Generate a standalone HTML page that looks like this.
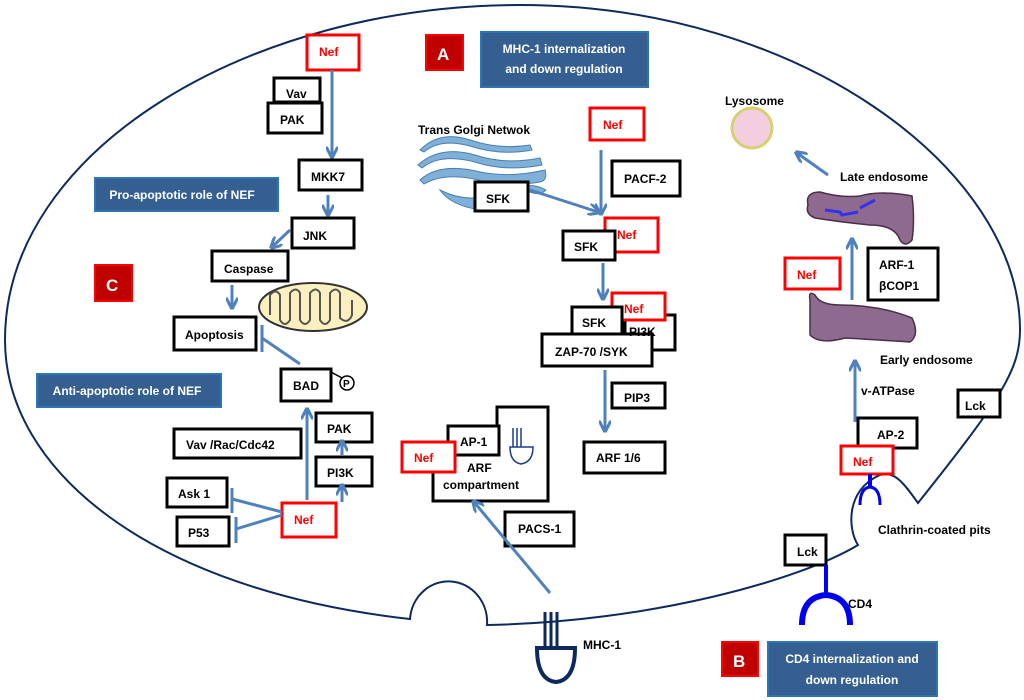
<!DOCTYPE html>
<html><head><meta charset="utf-8"><style>
html,body{margin:0;padding:0;background:#fff;}
svg{display:block;}
text{font-family:"Liberation Sans",sans-serif;font-weight:bold;font-size:12px;}
</style></head><body>
<svg width="1024" height="700" viewBox="0 0 1024 700" xmlns="http://www.w3.org/2000/svg">
<defs>
<marker id="ah" viewBox="0 0 10 10" refX="8" refY="5" markerWidth="4" markerHeight="4" orient="auto"><path d="M0,0 L10,5 L0,10" fill="none" stroke="#4f81bd" stroke-width="2.5"/></marker>
</defs>
<path d="M410,619 C150,590 5,470 5,340 C5,150 250,5 520,5 C800,5 1020,170 1020,330 C1020,370 1000,400 918,503 C905,485 895,470 880,475 C845,490 848,530 858,545 C800,580 650,622 487,625 A38,40 0 1 0 410,619 Z" fill="none" stroke="#0d2a5e" stroke-width="2"/>

<g fill="#fff" stroke="#000" stroke-width="3">
<rect x="274" y="78" width="46" height="24"/>
<rect x="268" y="103" width="54" height="30"/>
<rect x="299" y="160" width="63" height="30"/>
<rect x="292" y="218" width="62" height="30"/>
<rect x="212" y="251" width="76" height="30"/>
<rect x="174" y="317" width="82" height="33"/>
<rect x="281" y="369" width="50" height="32"/>
<rect x="174" y="429" width="127" height="29"/>
<rect x="316" y="413" width="56" height="29"/>
<rect x="316" y="457" width="56" height="29"/>
<rect x="167" y="478" width="60" height="29"/>
<rect x="177" y="517" width="52" height="29"/>
<rect x="612" y="161" width="68" height="35"/>
<rect x="625" y="315" width="50" height="35"/>
<rect x="612" y="383" width="53" height="25"/>
<rect x="584" y="442" width="81" height="31"/>
<path d="M433,455 H497 V407 H548 V501 H433 Z"/>
<rect x="448" y="426" width="51" height="29"/>
<rect x="505" y="512" width="69" height="34"/>
<rect x="868" y="248" width="70" height="52"/>
<rect x="958" y="390" width="42" height="27"/>
<rect x="858" y="418" width="59" height="30"/>
<rect x="785" y="535" width="41" height="30"/>
</g>
<g fill="#fff" stroke="#ff0000" stroke-width="3">
<rect x="307" y="35" width="52" height="35"/>
<rect x="282" y="503" width="54" height="34"/>
<rect x="590" y="108" width="54" height="32"/>
<rect x="605" y="218" width="53" height="34"/>
<rect x="612" y="293" width="53" height="27"/>
<rect x="402" y="442" width="53" height="30"/>
<rect x="785" y="258" width="55" height="31"/>
<rect x="841" y="446" width="52" height="28"/>
</g>
<g fill="#fff" stroke="#000" stroke-width="3">
<rect x="563" y="231" width="52" height="29"/>
<rect x="572" y="307" width="50" height="28"/>
<rect x="542" y="334" width="110" height="32"/>
</g>
<g fill="#c00000" stroke="#ff0000" stroke-width="2">
<rect x="426" y="35" width="37" height="35"/>
<rect x="95" y="265" width="37" height="36"/>
<rect x="722" y="642" width="36" height="34"/>
</g>
<g fill="#fff"><text x="437" y="60" style="font-size:17px">A</text><text x="106" y="291" style="font-size:17px">C</text><text x="733" y="667" style="font-size:17px">B</text></g>
<g fill="#355f91" stroke="#2e75b6" stroke-width="2">
<rect x="481" y="32" width="167" height="55"/>
<rect x="95" y="178" width="183" height="33"/>
<rect x="37" y="374" width="184" height="33"/>
<rect x="768" y="642" width="169" height="54"/>
</g>
<g fill="#fff" text-anchor="middle">
<text x="564" y="53">MHC-1 internalization</text>
<text x="564" y="73">and down regulation</text>
<text x="182" y="199">Pro-apoptotic role of NEF</text>
<text x="127" y="395">Anti-apoptotic role of NEF</text>
<text x="852" y="663">CD4  internalization and</text>
<text x="852" y="684">down regulation</text>
</g>
<!-- golgi -->
<g fill="#7fb0d8" stroke="#4a7fb0" stroke-width="1">
<path d="M420,150 Q440,130 470,140 Q500,150 530,145 L532,150 Q500,156 470,146 Q440,138 424,152 Z"/>
<path d="M418,165 Q440,145 475,155 Q505,165 540,158 L542,165 Q505,172 475,162 Q440,153 422,168 Z"/>
<path d="M420,180 Q440,162 480,172 Q510,178 545,170 Q548,180 540,182 Q505,188 478,180 Q445,172 424,184 Z"/>
<path d="M440,190 Q470,205 500,192 Q530,180 546,190 Q540,196 530,192 Q505,200 480,210 Q450,205 440,190 Z"/>
</g>
<rect x="475" y="182" width="53" height="29" fill="#fff" stroke="#000" stroke-width="3"/>
<g stroke="#4f81bd" stroke-width="3" fill="none" marker-end="url(#ah)">
<line x1="332" y1="70" x2="332" y2="156"/>
<line x1="328" y1="195" x2="328" y2="214"/>
<line x1="290" y1="230" x2="272" y2="247"/>
<line x1="232" y1="285" x2="232" y2="307"/>
<line x1="307" y1="500" x2="307" y2="410"/>
<line x1="342" y1="456" x2="342" y2="442"/>
<line x1="342" y1="502" x2="342" y2="486"/>
<line x1="530" y1="190" x2="598" y2="212"/>
<line x1="601" y1="150" x2="601" y2="213"/>
<line x1="603" y1="263" x2="603" y2="298"/>
<line x1="605" y1="370" x2="605" y2="430"/>
<line x1="550" y1="593" x2="474" y2="502"/>
<line x1="828" y1="175" x2="797" y2="153"/>
<line x1="852" y1="300" x2="852" y2="240"/>
<line x1="855" y1="422" x2="855" y2="362"/>
</g>
<g stroke="#4f81bd" stroke-width="3" fill="none">
<line x1="300" y1="364" x2="262" y2="338"/><line x1="262" y1="325" x2="262" y2="352"/>
<line x1="282" y1="512" x2="232" y2="499"/><line x1="232" y1="488" x2="232" y2="513"/>
<line x1="282" y1="515" x2="236" y2="529"/><line x1="236" y1="517" x2="236" y2="543"/>
</g>
<line x1="331" y1="372" x2="342" y2="378" stroke="#000" stroke-width="1.5"/>
<circle cx="347" cy="383" r="7" fill="#fff" stroke="#000" stroke-width="1.5"/>
<text x="343" y="387" style="font-size:10px">P</text>
<ellipse cx="313" cy="307" rx="54" ry="24" fill="#fdf0c0" stroke="#333" stroke-width="2"/>
<path d="M270,315 V295 Q276,288 280,295 V320 Q285,328 290,320 V293 Q296,286 300,293 V320 Q305,328 310,320 V293 Q316,286 320,293 V320 Q325,328 330,320 V293 Q336,286 340,293 V318 Q348,325 352,315 V300" fill="none" stroke="#555" stroke-width="2"/>
<circle cx="752" cy="128" r="20" fill="#f4cde0" stroke="#d8d070" stroke-width="3"/>
<path d="M808,205 Q805,192 820,192 Q840,198 860,196 Q880,190 912,196 Q915,220 912,240 Q905,248 900,240 Q895,225 870,225 Q840,222 815,218 Q805,214 808,205 Z" fill="#8f6a8f" stroke="#4a2e4a" stroke-width="1.5"/>
<path d="M825,210 L840,212 L842,215 L858,212 M860,208 L875,200" stroke="#3333ee" stroke-width="3" fill="none"/>
<path d="M810,300 Q808,290 815,295 Q820,305 840,305 Q880,305 912,318 Q920,335 910,342 Q880,340 845,338 Q820,345 810,335 Z" fill="#8f6a8f" stroke="#4a2e4a" stroke-width="1.5"/>
<g stroke="#0000ee" stroke-width="4" fill="none">
<line x1="826" y1="565" x2="826" y2="597"/>
<path d="M802,625 Q802,597 826,595 Q850,597 850,625" stroke-width="6"/>
<line x1="870" y1="474" x2="870" y2="488"/>
<path d="M860,505 Q860,488 870,487 Q880,488 880,505" stroke-width="3"/>
</g>
<g stroke="#0d2a5e" stroke-width="3" fill="none">
<line x1="545" y1="612" x2="545" y2="650"/><line x1="551" y1="612" x2="551" y2="650"/><line x1="557" y1="612" x2="557" y2="650"/>
<path d="M537,648 H575 Q575,680 556,682 Q537,680 537,648 Z" stroke-width="4"/>
</g>
<g stroke="#1a3a8a" stroke-width="1.5" fill="none">
<line x1="513" y1="428" x2="513" y2="447"/><line x1="517" y1="428" x2="517" y2="447"/><line x1="521" y1="428" x2="521" y2="447"/>
<path d="M510,447 H533 Q533,462 521,464 Q510,462 510,447 Z"/>
</g>
<g fill="#000">
<text x="286" y="98">Vav</text>
<text x="280" y="124">PAK</text>
<text x="311" y="181">MKK7</text>
<text x="303" y="240">JNK</text>
<text x="224" y="273">Caspase</text>
<text x="185" y="339">Apoptosis</text>
<text x="293" y="390">BAD</text>
<text x="186" y="449">Vav /Rac/Cdc42</text>
<text x="327" y="433">PAK</text>
<text x="327" y="477">PI3K</text>
<text x="178" y="498">Ask 1</text>
<text x="188" y="537">P53</text>
<text x="418" y="134">Trans Golgi Netwok</text>
<text x="486" y="203">SFK</text>
<text x="624" y="183">PACF-2</text>
<text x="574" y="251">SFK</text>
<text x="629" y="336">PI3K</text>
<text x="582" y="327">SFK</text>
<text x="555" y="356">ZAP-70 /SYK</text>
<text x="624" y="402">PIP3</text>
<text x="596" y="462">ARF 1/6</text>
<text x="460" y="446">AP-1</text>
<text x="467" y="472">ARF</text>
<text x="443" y="489">compartment</text>
<text x="518" y="533">PACS-1</text>
<text x="583" y="649">MHC-1</text>
<text x="725" y="105">Lysosome</text>
<text x="840" y="181">Late endosome</text>
<text x="879" y="269">ARF-1</text>
<text x="879" y="290">βCOP1</text>
<text x="880" y="364">Early endosome</text>
<text x="861" y="395">v-ATPase</text>
<text x="965" y="410">Lck</text>
<text x="877" y="439">AP-2</text>
<text x="878" y="534">Clathrin-coated pits</text>
<text x="797" y="556">Lck</text>
<text x="848" y="608">CD4</text>
</g>
<g fill="#ff0000">
<text x="319" y="56">Nef</text>
<text x="294" y="524">Nef</text>
<text x="603" y="129">Nef</text>
<text x="617" y="239">Nef</text>
<text x="624" y="313">Nef</text>
<text x="414" y="462">Nef</text>
<text x="797" y="279">Nef</text>
<text x="853" y="466">Nef</text>
</g>
</svg>
</body></html>
